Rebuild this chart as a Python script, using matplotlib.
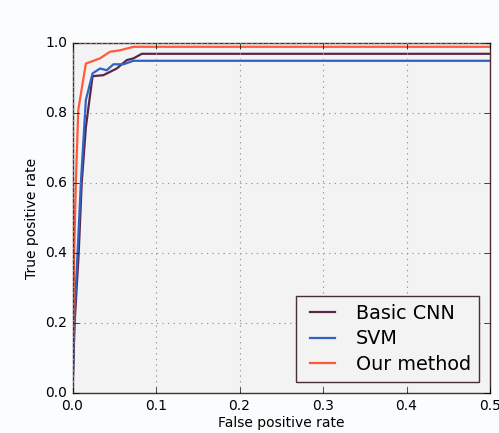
import matplotlib
matplotlib.use("Agg")
import matplotlib.pyplot as plt

# ROC points
cnn_fpr = [0.0, 0.0025, 0.0074, 0.011, 0.016, 0.024, 0.037, 0.053, 0.065, 0.073, 0.083, 0.5]
cnn_tpr = [0.0, 0.2, 0.4, 0.6, 0.76, 0.906, 0.909, 0.928, 0.952, 0.957, 0.97, 0.97]

svm_fpr = [0.0, 0.002, 0.006, 0.010, 0.016, 0.024, 0.033, 0.041, 0.049, 0.061, 0.073, 0.5]
svm_tpr = [0.0, 0.2, 0.4, 0.6, 0.838, 0.914, 0.928, 0.923, 0.94, 0.94, 0.95, 0.95]

our_fpr = [0.0, 0.001, 0.002, 0.004, 0.0069, 0.016, 0.033, 0.045, 0.057, 0.073, 0.5]
our_tpr = [0.0, 0.2, 0.4, 0.6, 0.81, 0.942, 0.957, 0.976, 0.98, 0.99, 0.99]

plt.style.use('classic')
fig = plt.figure(figsize=(4.99, 4.33), dpi=100, facecolor='#fbfcfd')
ax = fig.add_axes([0.1453, 0.0917, 0.8367, 0.8083])
ax.set_facecolor('#f3f3f3')

ax.plot(cnn_fpr, cnn_tpr, color='#5b2548', lw=1.6, label='Basic CNN')
ax.plot(svm_fpr, svm_tpr, color='#2f62c4', lw=1.6, label='SVM')
ax.plot(our_fpr, our_tpr, color='#ff5a3c', lw=1.6, label='Our method')

ax.set_xlim(0, 0.5)
ax.set_ylim(0, 1.0)
ax.set_xticks([0.0, 0.1, 0.2, 0.3, 0.4, 0.5])
ax.set_yticks([0.0, 0.2, 0.4, 0.6, 0.8, 1.0])
ax.tick_params(labelsize=10)
ax.grid(True, color='#999999', linestyle=':', linewidth=0.8)
for s in ax.spines.values():
    s.set_color('#4a3030')

ax.set_xlabel('False positive rate', fontsize=10, labelpad=2)
ax.set_ylabel('True positive rate', fontsize=10, labelpad=4)

leg = ax.legend(loc='lower right', fontsize=13.8, frameon=True, fancybox=False,
                handlelength=1.9, handletextpad=0.8, labelspacing=0.35,
                borderaxespad=0.6)
leg.get_frame().set_edgecolor('#4a3030')
leg.get_frame().set_facecolor('#f3f3f3')

fig.savefig('out.png', dpi=100, facecolor=fig.get_facecolor())
